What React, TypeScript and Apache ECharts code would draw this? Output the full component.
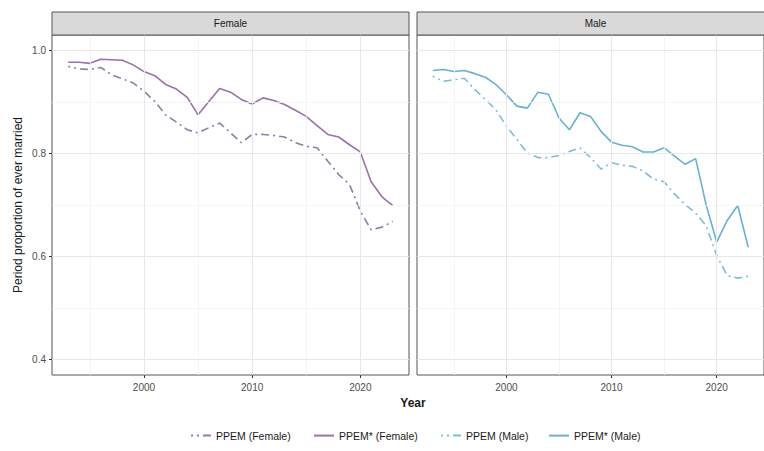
import React, { useEffect, useRef } from "react";
import * as echarts from "echarts";

const years = [1993, 1994, 1995, 1996, 1997, 1998, 1999, 2000, 2001, 2002, 2003, 2004, 2005, 2006, 2007, 2008, 2009, 2010, 2011, 2012, 2013, 2014, 2015, 2016, 2017, 2018, 2019, 2020, 2021, 2022, 2023];
const femalePPEM = [0.969, 0.964, 0.963, 0.967, 0.953, 0.945, 0.937, 0.921, 0.901, 0.875, 0.861, 0.846, 0.840, 0.850, 0.859, 0.840, 0.821, 0.837, 0.837, 0.835, 0.832, 0.821, 0.814, 0.811, 0.785, 0.759, 0.740, 0.688, 0.652, 0.657, 0.668];
const femaleStar = [0.977, 0.977, 0.975, 0.983, 0.982, 0.981, 0.972, 0.959, 0.951, 0.934, 0.925, 0.909, 0.875, 0.901, 0.926, 0.919, 0.905, 0.896, 0.908, 0.903, 0.895, 0.884, 0.872, 0.854, 0.837, 0.832, 0.817, 0.803, 0.745, 0.716, 0.699];
const malePPEM = [0.950, 0.940, 0.943, 0.946, 0.924, 0.905, 0.885, 0.853, 0.827, 0.801, 0.792, 0.792, 0.796, 0.804, 0.811, 0.792, 0.770, 0.782, 0.777, 0.775, 0.766, 0.750, 0.745, 0.721, 0.701, 0.684, 0.660, 0.602, 0.563, 0.558, 0.562];
const maleStar = [0.961, 0.963, 0.959, 0.961, 0.955, 0.948, 0.934, 0.914, 0.892, 0.888, 0.919, 0.915, 0.869, 0.846, 0.879, 0.872, 0.843, 0.822, 0.816, 0.813, 0.803, 0.803, 0.811, 0.795, 0.779, 0.790, 0.700, 0.628, 0.670, 0.699, 0.618];

const yMajor = [0.4, 0.6, 0.8, 1.0];
const yMinor = [0.5, 0.7, 0.9];
const xMajor = [2000, 2010, 2020];
const xMinor = [1995, 2005, 2015];
const panels = ["Female", "Male"];
const seriesNames = ["PPEM (Female)", "PPEM* (Female)", "PPEM (Male)", "PPEM* (Male)"];

const FONT = "'Liberation Sans', Arial, sans-serif";

export default function App() {
  const ref = useRef<HTMLDivElement>(null);
  useEffect(() => {
    if (!ref.current) return;
    const chart = echarts.init(ref.current, null, { renderer: "svg" });
    const gridLefts = [52, 417];
    const gridTop = 35;
    const gridW = 357;
    const gridH = 340;

    const pair = (vals: number[]) => years.map((y, i) => [y, vals[i]]);

    const gridSeries = [0, 1].map((gi) => ({
      type: "line",
      name: "grid" + gi,
      xAxisIndex: gi,
      yAxisIndex: gi,
      data: [],
      z: 1,
      silent: true,
      markLine: {
        silent: true,
        symbol: ["none", "none"],
        label: { show: false },
        emphasis: { disabled: true },
        animation: false,
        data: [
          ...yMinor.map((v) => ({ yAxis: v, lineStyle: { color: "#f2f2f2", width: 0.8, type: "solid" } })),
          ...xMinor.map((v) => ({ xAxis: v, lineStyle: { color: "#f2f2f2", width: 0.8, type: "solid" } })),
          ...yMajor.map((v) => ({ yAxis: v, lineStyle: { color: "#e8e8e8", width: 1, type: "solid" } })),
          ...xMajor.map((v) => ({ xAxis: v, lineStyle: { color: "#e8e8e8", width: 1, type: "solid" } })),
        ],
      },
    }));

    const dashDot = [8, 4, 2, 4];
    const dataSeries = [
      { name: seriesNames[0], gi: 0, vals: femalePPEM, color: "#8f7ea2", type: dashDot },
      { name: seriesNames[1], gi: 0, vals: femaleStar, color: "#9b6fb0", type: "solid" },
      { name: seriesNames[2], gi: 1, vals: malePPEM, color: "#7dbdd9", type: dashDot },
      { name: seriesNames[3], gi: 1, vals: maleStar, color: "#68b1d3", type: "solid" },
    ].map((s) => ({
      type: "line",
      name: s.name,
      xAxisIndex: s.gi,
      yAxisIndex: s.gi,
      data: pair(s.vals),
      symbol: "none",
      showSymbol: false,
      z: 3,
      itemStyle: { color: s.color },
      lineStyle: { color: s.color, width: 1.6, type: s.type, dashOffset: 6 },
      emphasis: { disabled: true },
    }));

    const legendX = [190, 313, 440, 548];

    const option: any = {
      animation: false,
      backgroundColor: "#ffffff",
      textStyle: { fontFamily: FONT },
      grid: gridLefts.map((l) => ({
        left: l,
        top: gridTop,
        width: gridW,
        height: gridH,
        show: true,
        borderColor: "#555555",
        borderWidth: 1,
        backgroundColor: "transparent",
        containLabel: false,
      })),
      xAxis: [0, 1].map((gi) => ({
        type: "value",
        gridIndex: gi,
        min: 1991.5,
        max: 2024.5,
        splitLine: { show: false },
        axisLine: { show: false },
        axisTick: { show: true, length: 3, lineStyle: { color: "#333333" }, customValues: xMajor },
        axisLabel: {
          show: true,
          customValues: xMajor,
          formatter: (v: number) => String(Math.round(v)),
          color: "#4d4d4d",
          fontSize: 10,
          margin: 7,
          fontFamily: FONT,
        },
      })),
      yAxis: [0, 1].map((gi) => ({
        type: "value",
        gridIndex: gi,
        min: 0.37,
        max: 1.03,
        splitLine: { show: false },
        axisLine: { show: false },
        axisTick: { show: gi === 0, length: 3, lineStyle: { color: "#333333" }, customValues: yMajor },
        axisLabel: {
          show: gi === 0,
          customValues: yMajor,
          formatter: (v: number) => v.toFixed(1),
          color: "#4d4d4d",
          fontSize: 10,
          margin: 6,
          fontFamily: FONT,
        },
        name: gi === 0 ? "Period proportion of ever married" : "",
        nameLocation: "middle",
        nameGap: 28,
        nameTextStyle: { color: "#1a1a1a", fontSize: 12, fontFamily: FONT },
      })),
      legend: seriesNames.map((n, i) => ({
        data: [n],
        left: legendX[i],
        top: 430,
        padding: 0,
        orient: "horizontal",
        itemWidth: 20,
        itemHeight: 14,
        selectedMode: false,
        itemStyle: { color: "transparent", borderColor: "transparent", borderWidth: 0, opacity: 0 },
        textStyle: { color: "#1a1a1a", fontSize: 10.5, fontFamily: FONT },
      })),
      graphic: [
        ...panels.map((p, i) => ({
          type: "rect",
          shape: { x: gridLefts[i], y: 12, width: gridW, height: 23 },
          style: { fill: "#d9d9d9", stroke: "#555555", lineWidth: 1 },
          z: 10,
          silent: true,
        })),
        ...panels.map((p, i) => ({
          type: "text",
          x: gridLefts[i] + gridW / 2,
          y: 23.5,
          style: {
            text: p,
            fill: "#1a1a1a",
            fontSize: 10,
            fontFamily: FONT,
            align: "center",
            verticalAlign: "middle",
          },
          z: 11,
          silent: true,
        })),
        {
          type: "text",
          x: 413,
          y: 403,
          style: {
            text: "Year",
            fill: "#1a1a1a",
            fontSize: 12,
            fontWeight: "bold",
            fontFamily: FONT,
            align: "center",
            verticalAlign: "middle",
          },
          silent: true,
        },
      ],
      series: [...gridSeries, ...dataSeries],
    };
    chart.setOption(option);
    return () => chart.dispose();
  }, []);
  return (
    <div
      ref={ref}
      style={{ position: "absolute", left: 0, top: 0, width: 764, height: 451, background: "#fff" }}
    />
  );
}
